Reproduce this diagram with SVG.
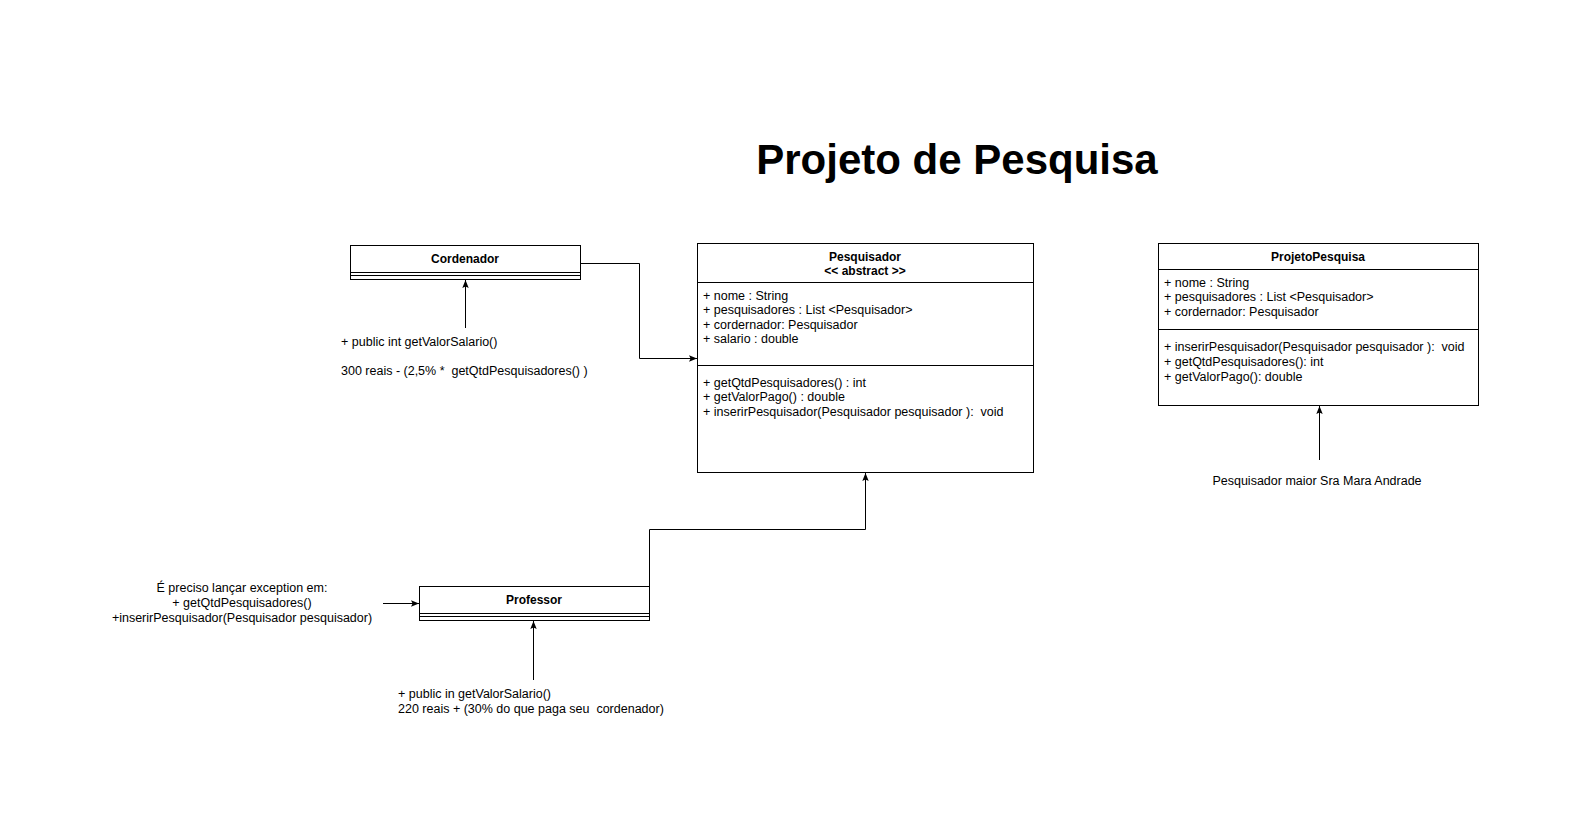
<svg xmlns="http://www.w3.org/2000/svg" width="1579" height="821" viewBox="0 0 1579 821">
<style>
text{font-family:"Liberation Sans",Arial,sans-serif;font-size:12.5px;fill:#000;white-space:pre}
.b{font-weight:bold;font-size:12px}
.c{text-anchor:middle}
.box{fill:#fff;stroke:#000;stroke-width:1}
.ln{fill:none;stroke:#000;stroke-width:1}
.title{font-size:42px;font-weight:bold}
</style>
<defs>
<marker id="ar" viewBox="0 0 10 10" refX="10" refY="5" markerWidth="8" markerHeight="8" markerUnits="userSpaceOnUse" orient="auto">
<path d="M0,1 L10,5 L0,9 L2,5 Z" fill="#000"/>
</marker>
</defs>
<rect width="1579" height="821" fill="#fff"/>
<text class="title c" x="957" y="174">Projeto de Pesquisa</text>

<g id="Cordenador">
<rect class="box" x="350.5" y="245.5" width="230" height="34"/>
<line class="ln" x1="350" y1="272.5" x2="581" y2="272.5"/>
<line class="ln" x1="350" y1="275.5" x2="581" y2="275.5"/>
<text class="b c" x="465" y="263">Cordenador</text>
</g>

<g id="Pesquisador">
<rect class="box" x="697.5" y="243.5" width="336" height="229"/>
<line class="ln" x1="697" y1="282.5" x2="1034" y2="282.5"/>
<line class="ln" x1="697" y1="365.5" x2="1034" y2="365.5"/>
<text class="b c" x="865" y="261">Pesquisador</text>
<text class="b c" x="865" y="275">&lt;&lt; abstract &gt;&gt;</text>
<text x="703" y="300">+ nome : String</text>
<text x="703" y="314">+ pesquisadores : List &lt;Pesquisador&gt;</text>
<text x="703" y="329">+ cordernador: Pesquisador</text>
<text x="703" y="343">+ salario : double</text>
<text x="703" y="387">+ getQtdPesquisadores() : int</text>
<text x="703" y="401">+ getValorPago() : double</text>
<text x="703" y="416">+ inserirPesquisador(Pesquisador pesquisador ):  void</text>
</g>

<g id="ProjetoPesquisa">
<rect class="box" x="1158.5" y="243.5" width="320" height="162"/>
<line class="ln" x1="1158" y1="269.5" x2="1479" y2="269.5"/>
<line class="ln" x1="1158" y1="329.5" x2="1479" y2="329.5"/>
<text class="b c" x="1318" y="261">ProjetoPesquisa</text>
<text x="1164" y="287">+ nome : String</text>
<text x="1164" y="301">+ pesquisadores : List &lt;Pesquisador&gt;</text>
<text x="1164" y="316">+ cordernador: Pesquisador</text>
<text x="1164" y="351">+ inserirPesquisador(Pesquisador pesquisador ):  void</text>
<text x="1164" y="366">+ getQtdPesquisadores(): int</text>
<text x="1164" y="381">+ getValorPago(): double</text>
</g>

<g id="Professor">
<rect class="box" x="419.5" y="586.5" width="230" height="34"/>
<line class="ln" x1="419" y1="613.5" x2="650" y2="613.5"/>
<line class="ln" x1="419" y1="616.5" x2="650" y2="616.5"/>
<text class="b c" x="534" y="604">Professor</text>
</g>

<g id="notes">
<text x="341" y="346">+ public int getValorSalario()</text>
<text x="341" y="375">300 reais - (2,5% *  getQtdPesquisadores() )</text>
<text class="c" x="242" y="592">É preciso lançar exception em:</text>
<text class="c" x="242" y="607">+ getQtdPesquisadores()</text>
<text class="c" x="242" y="622">+inserirPesquisador(Pesquisador pesquisador)</text>
<text x="398" y="698">+ public in getValorSalario()</text>
<text x="398" y="713">220 reais + (30% do que paga seu  cordenador)</text>
<text class="c" x="1317" y="485">Pesquisador maior Sra Mara Andrade</text>
</g>

<g id="connectors">
<polyline class="ln" points="580.5,263.5 639.5,263.5 639.5,358.5 697,358.5" marker-end="url(#ar)"/>
<polyline class="ln" points="649.5,603 649.5,529.5 865.5,529.5 865.5,473" marker-end="url(#ar)"/>
<line class="ln" x1="465.5" y1="328" x2="465.5" y2="280" marker-end="url(#ar)"/>
<line class="ln" x1="533.5" y1="680" x2="533.5" y2="621" marker-end="url(#ar)"/>
<line class="ln" x1="383" y1="603.5" x2="419" y2="603.5" marker-end="url(#ar)"/>
<line class="ln" x1="1319.5" y1="460" x2="1319.5" y2="406" marker-end="url(#ar)"/>
</g>
</svg>
